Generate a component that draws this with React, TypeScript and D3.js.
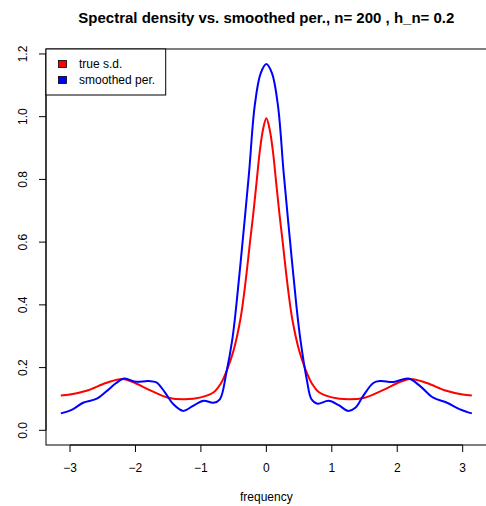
import React from "react";
import * as d3 from "d3";

const redFreq = [-3.14, -3.0, -2.75, -2.45, -2.2, -2.0, -1.8, -1.5, -1.25, -1.0, -0.8, -0.7, -0.6, -0.5, -0.4, -0.35, -0.3, -0.25, -0.2, -0.15, -0.1, -0.05, 0, 0.05, 0.1, 0.15, 0.2, 0.25, 0.3, 0.35, 0.4, 0.5, 0.6, 0.7, 0.8, 1.0, 1.25, 1.5, 1.8, 2.0, 2.2, 2.45, 2.75, 3.0, 3.14];
const redVal = [0.111, 0.114, 0.126, 0.151, 0.164, 0.15, 0.13, 0.104, 0.099, 0.105, 0.122, 0.148, 0.193, 0.255, 0.35, 0.42, 0.505, 0.6, 0.69, 0.79, 0.89, 0.96, 0.995, 0.96, 0.89, 0.79, 0.69, 0.6, 0.505, 0.42, 0.35, 0.255, 0.193, 0.148, 0.122, 0.105, 0.099, 0.104, 0.13, 0.15, 0.164, 0.151, 0.126, 0.114, 0.111];

const blueFreq = [-3.14, -2.96, -2.8, -2.6, -2.44, -2.3, -2.17, -2.0, -1.8, -1.68, -1.55, -1.42, -1.27, -1.12, -0.96, -0.81, -0.71, -0.61, -0.52, -0.46, -0.36, -0.265, -0.177, -0.087, 0, 0.087, 0.177, 0.265, 0.36, 0.46, 0.52, 0.617, 0.69, 0.78, 0.95, 1.1, 1.25, 1.36, 1.48, 1.635, 1.74, 1.94, 2.17, 2.35, 2.55, 2.76, 2.96, 3.14];
const blueVal = [0.054, 0.067, 0.088, 0.1, 0.125, 0.15, 0.165, 0.155, 0.157, 0.153, 0.121, 0.083, 0.062, 0.078, 0.094, 0.088, 0.099, 0.185, 0.29, 0.396, 0.608, 0.82, 1.036, 1.138, 1.168, 1.138, 1.036, 0.82, 0.608, 0.396, 0.29, 0.163, 0.099, 0.085, 0.094, 0.081, 0.062, 0.072, 0.11, 0.151, 0.157, 0.154, 0.165, 0.141, 0.104, 0.088, 0.067, 0.054];

const xTicks = [-3, -2, -1, 0, 1, 2, 3];
const yTicks = [0.0, 0.2, 0.4, 0.6, 0.8, 1.0, 1.2];
const legendLabels = ["true s.d.", "smoothed per."];
const legendColors = ["#FF0000", "#0000FF"];
const title = "Spectral density vs. smoothed per., n= 200 , h_n= 0.2";
const xLabel = "frequency";

const W = 486;
const H = 506;
const left = 46;
const right = 486.7;
const top = 49;
const bottom = 445;

export default function App() {
  const x = d3.scaleLinear().domain([-3.367, 3.367]).range([left, right]);
  const y = d3.scaleLinear().domain([-0.0468, 1.2158]).range([bottom, top]);
  const line = d3
    .line<[number, number]>()
    .x((d) => x(d[0]))
    .y((d) => y(d[1]))
    .curve(d3.curveCatmullRom.alpha(0.5));
  const redPts = redFreq.map((f, i) => [f, redVal[i]] as [number, number]);
  const bluePts = blueFreq.map((f, i) => [f, blueVal[i]] as [number, number]);
  const font = "Liberation Sans, Arial, Helvetica, sans-serif";
  return (
    <svg
      width={W}
      height={H}
      style={{ position: "absolute", left: 0, top: 0, background: "#fff" }}
      fontFamily={font}
    >
      <rect x={0} y={0} width={W} height={H} fill="#fff" />
      <text x={(left + right) / 2} y={23} textAnchor="middle" fontWeight="bold" fontSize={15}>
        {title}
      </text>
      <path d={line(redPts) || ""} fill="none" stroke="#FF0000" strokeWidth={2} />
      <path d={line(bluePts) || ""} fill="none" stroke="#0000FF" strokeWidth={2} />
      <rect x={left} y={top} width={right - left} height={bottom - top} fill="none" stroke="#000" strokeWidth={1} />
      {/* x axis */}
      <line x1={x(xTicks[0])} x2={x(xTicks[xTicks.length - 1])} y1={bottom} y2={bottom} stroke="#000" />
      {xTicks.map((t) => (
        <g key={"xt" + t}>
          <line x1={x(t)} x2={x(t)} y1={bottom} y2={bottom + 7} stroke="#000" />
          <text x={x(t)} y={472} textAnchor="middle" fontSize={12}>
            {t < 0 ? "\u2212" + Math.abs(t) : String(t)}
          </text>
        </g>
      ))}
      <text x={(left + right) / 2} y={501} textAnchor="middle" fontSize={12}>
        {xLabel}
      </text>
      {/* y axis */}
      <line x1={left} x2={left} y1={y(yTicks[0])} y2={y(yTicks[yTicks.length - 1])} stroke="#000" />
      {yTicks.map((t) => (
        <g key={"yt" + t}>
          <line x1={left - 7} x2={left} y1={y(t)} y2={y(t)} stroke="#000" />
          <text
            transform={`translate(${27},${y(t)}) rotate(-90)`}
            textAnchor="middle"
            fontSize={12}
          >
            {t.toFixed(1)}
          </text>
        </g>
      ))}
      {/* legend */}
      <rect x={left} y={top} width={119.7} height={46} fill="#fff" stroke="#000" strokeWidth={1} />
      {legendLabels.map((lab, i) => (
        <g key={lab}>
          <rect x={58.5} y={60.5 + i * 16} width={8} height={7} fill={legendColors[i]} stroke="#000" strokeWidth={0.8} />
          <text x={79} y={68 + i * 16} fontSize={12}>
            {lab}
          </text>
        </g>
      ))}
    </svg>
  );
}
